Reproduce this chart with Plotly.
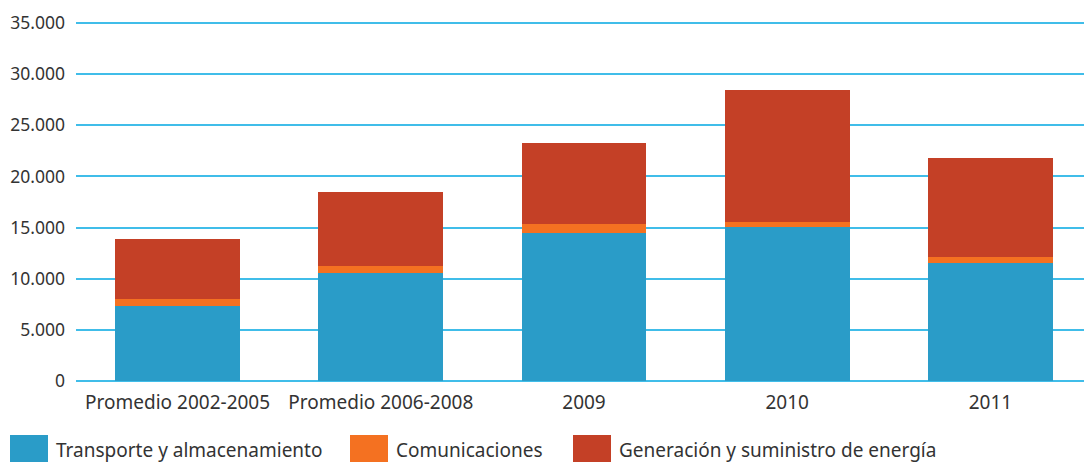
import plotly.graph_objects as go

categories = ["Promedio 2002-2005", "Promedio 2006-2008", "2009", "2010", "2011"]
transporte = [7350, 10580, 14500, 15080, 11560]
comunicaciones = [680, 680, 880, 490, 580]
energia = [5870, 7240, 7930, 12930, 9700]

names = ["Transporte y almacenamiento", "Comunicaciones", "Generación y suministro de energía"]
colors = ["#2a9cc8", "#f47121", "#c44026"]

# Figure geometry (page is offset 8px by the default body margin)
W, H = 1084, 457
ML, MR, MT, MB = 68, 0, 12, 84
PW, PH = W - ML - MR, H - MT - MB
OFF = 8


def px_to_paper_x(px):
    return (px - OFF - ML) / PW


def px_to_paper_y(py):
    return (H - MB - (py - OFF)) / PH


fig = go.Figure()
for name, vals, col in zip(names, [transporte, comunicaciones, energia], colors):
    fig.add_trace(go.Bar(x=categories, y=vals, name=name, showlegend=False,
                         marker=dict(color=col, line=dict(width=0))))

# Custom legend (large rectangular swatches like the reference)
swatch_left = [10, 350, 573]
shapes, annotations = [], []
for name, col, sx in zip(names, colors, swatch_left):
    shapes.append(dict(type="rect", xref="paper", yref="paper",
                       x0=px_to_paper_x(sx), x1=px_to_paper_x(sx + 38),
                       y0=px_to_paper_y(462), y1=px_to_paper_y(435),
                       fillcolor=col, line=dict(width=0), layer="above"))
    annotations.append(dict(xref="paper", yref="paper", x=px_to_paper_x(sx + 44),
                            y=px_to_paper_y(450), xanchor="left", yanchor="middle",
                            text=name, showarrow=False,
                            font=dict(size=19, color="#333333")))

fig.update_layout(
    barmode="stack",
    bargap=0.385,
    width=W, height=H,
    margin=dict(l=ML, r=MR, t=MT, b=MB, autoexpand=False),
    plot_bgcolor="white", paper_bgcolor="white",
    separators=",.",
    font=dict(family="Noto Sans", size=18, color="#333333"),
    xaxis=dict(showgrid=False, showline=False, ticks="", tickfont=dict(size=19),
               automargin=False, ticklabelstandoff=8),
    yaxis=dict(range=[0, 35300], tickvals=[0, 5000, 10000, 15000, 20000, 25000, 30000, 35000],
               tickformat=",d", showgrid=True,
               gridcolor="#40bde9", gridwidth=2, zeroline=True, zerolinecolor="#40bde9",
               zerolinewidth=2, showline=False, ticks="", tickfont=dict(size=17.5),
               automargin=False, ticklabelstandoff=10),
    shapes=shapes,
    annotations=annotations,
    showlegend=False,
)

fig.write_html("out.html")
